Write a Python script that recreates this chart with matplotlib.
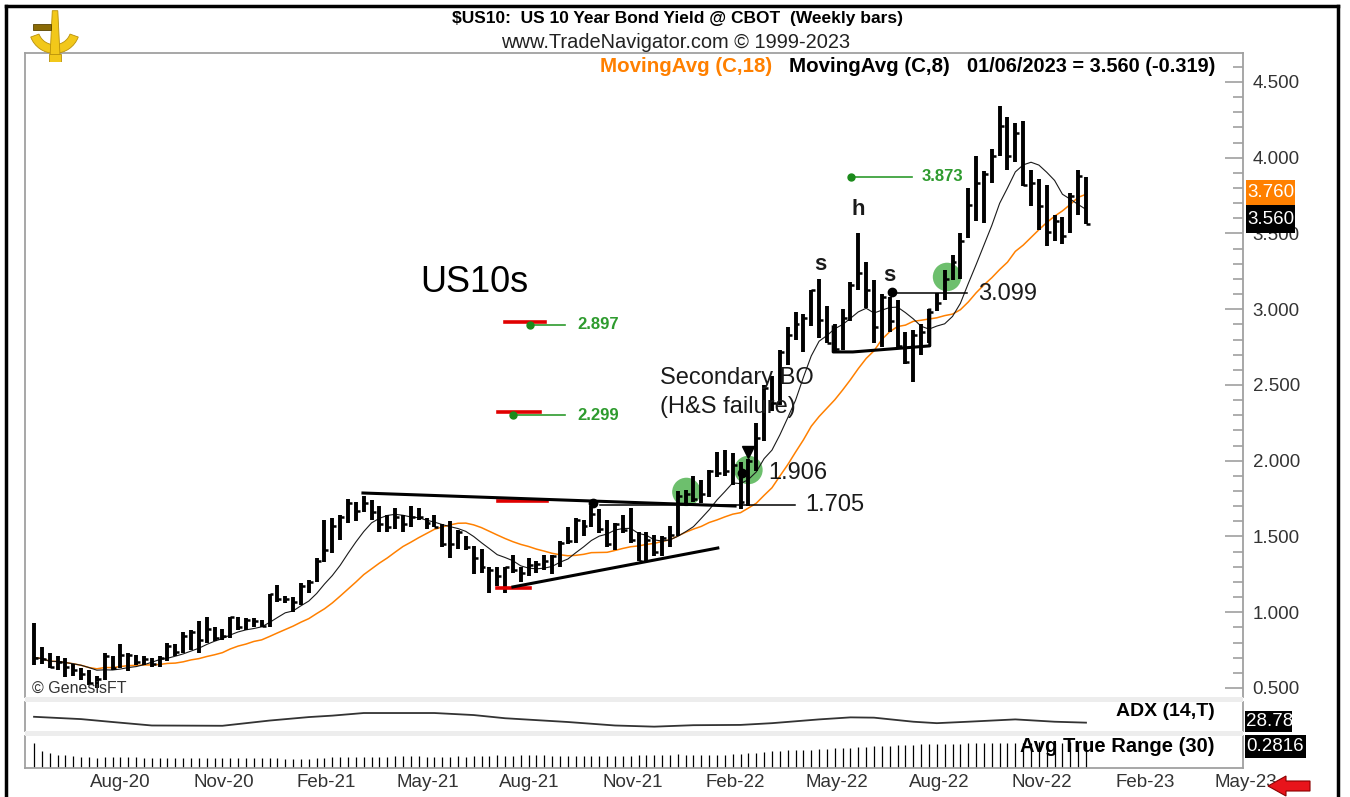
import numpy as np
import pandas as pd
import matplotlib
matplotlib.use("Agg")
import matplotlib.pyplot as plt
from matplotlib.patches import Rectangle, Wedge, Polygon
from matplotlib.lines import Line2D
from matplotlib.ticker import FormatStrFormatter

plt.rcParams['font.family'] = ['Liberation Sans', 'DejaVu Sans']

# US 10 year yield, weekly bars (Fridays), 12 Jun 2020 .. 06 Jan 2023
first_bar = '2020-06-12'
last_bar = '2023-01-06'

high_2020 = [0.93, 0.77, 0.73, 0.71, 0.70, 0.66, 0.63, 0.62, 0.58, 0.73,
             0.71, 0.79, 0.73, 0.72, 0.71, 0.70, 0.71, 0.80, 0.79, 0.87,
             0.88, 0.94, 0.97, 0.90, 0.89, 0.97, 0.97, 0.96, 0.96]
low_2020 = [0.65, 0.66, 0.63, 0.62, 0.57, 0.58, 0.55, 0.52, 0.50, 0.55,
            0.62, 0.63, 0.61, 0.65, 0.65, 0.64, 0.64, 0.68, 0.71, 0.73,
            0.75, 0.73, 0.80, 0.81, 0.82, 0.83, 0.88, 0.88, 0.90]
close_2020 = [0.70, 0.69, 0.64, 0.67, 0.64, 0.62, 0.59, 0.53, 0.56, 0.71,
              0.63, 0.72, 0.72, 0.67, 0.69, 0.66, 0.70, 0.78, 0.74, 0.84,
              0.87, 0.82, 0.89, 0.83, 0.84, 0.97, 0.90, 0.95, 0.94]

high_2021 = [0.95, 1.12, 1.18, 1.11, 1.10, 1.19, 1.21, 1.36, 1.61, 1.62,
             1.64, 1.75, 1.73, 1.77, 1.74, 1.70, 1.64, 1.69, 1.64, 1.70,
             1.69, 1.62, 1.64, 1.58, 1.60, 1.54, 1.50, 1.44, 1.42, 1.30,
             1.30, 1.30, 1.38, 1.30, 1.36, 1.34, 1.38, 1.38, 1.47, 1.56,
             1.62, 1.61, 1.70, 1.68, 1.61, 1.59, 1.64, 1.69, 1.53, 1.53,
             1.51, 1.50, 1.57]
low_2021 = [0.90, 0.90, 1.07, 1.06, 1.00, 1.05, 1.13, 1.20, 1.33, 1.39,
            1.48, 1.59, 1.60, 1.66, 1.61, 1.53, 1.53, 1.55, 1.53, 1.56,
            1.61, 1.55, 1.56, 1.43, 1.36, 1.42, 1.41, 1.25, 1.26, 1.13,
            1.17, 1.13, 1.26, 1.20, 1.24, 1.26, 1.28, 1.25, 1.30, 1.45,
            1.46, 1.50, 1.56, 1.52, 1.43, 1.41, 1.52, 1.46, 1.34, 1.34,
            1.37, 1.37, 1.43]
close_2021 = [0.91, 1.12, 1.09, 1.09, 1.07, 1.17, 1.20, 1.34, 1.41, 1.57,
              1.63, 1.72, 1.67, 1.72, 1.66, 1.58, 1.56, 1.63, 1.58, 1.63,
              1.63, 1.59, 1.56, 1.45, 1.45, 1.53, 1.43, 1.36, 1.30, 1.28,
              1.24, 1.30, 1.28, 1.26, 1.31, 1.32, 1.34, 1.37, 1.46, 1.47,
              1.61, 1.57, 1.65, 1.55, 1.45, 1.58, 1.54, 1.48, 1.34, 1.48,
              1.40, 1.49, 1.51]

high_2022 = [1.80, 1.81, 1.90, 1.87, 1.94, 2.06, 2.07, 2.05, 1.99, 2.01,
             2.25, 2.50, 2.56, 2.73, 2.88, 2.98, 2.97, 3.13, 3.20, 3.02,
             2.90, 3.00, 3.18, 3.50, 3.31, 3.19, 3.10, 3.08, 3.06, 2.85,
             2.86, 2.90, 3.00, 3.11, 3.26, 3.36, 3.50, 3.80, 4.01, 3.91,
             4.06, 4.34, 4.27, 4.23, 4.24, 3.92, 3.86, 3.82, 3.62, 3.61,
             3.77, 3.92]
low_2022 = [1.50, 1.70, 1.73, 1.72, 1.76, 1.89, 1.90, 1.84, 1.68, 1.70,
            1.93, 2.13, 2.33, 2.37, 2.63, 2.80, 2.72, 2.89, 2.81, 2.78,
            2.71, 2.73, 2.92, 3.13, 3.01, 2.78, 2.75, 2.85, 2.75, 2.64,
            2.52, 2.70, 2.78, 2.99, 3.06, 3.19, 3.20, 3.47, 3.58, 3.57,
            3.83, 4.01, 3.92, 3.97, 3.81, 3.68, 3.52, 3.42, 3.45, 3.43,
            3.50, 3.62]
close_2022 = [1.77, 1.78, 1.75, 1.78, 1.93, 1.92, 1.93, 1.97, 1.73, 2.00,
              2.15, 2.48, 2.38, 2.72, 2.83, 2.90, 2.94, 3.13, 2.93, 2.78,
              2.74, 2.94, 3.16, 3.24, 3.13, 2.88, 3.08, 2.92, 2.76, 2.65,
              2.83, 2.85, 2.98, 3.04, 3.20, 3.31, 3.45, 3.69, 3.83, 3.89,
              4.01, 4.21, 4.01, 4.16, 3.82, 3.83, 3.68, 3.51, 3.58, 3.48,
              3.75, 3.88]

high_2023 = [3.87]
low_2023 = [3.56]
close_2023 = [3.56]

# ADX(14) readings taken off the lower panel
adx_dates = ['2020-06-12', '2020-07-24', '2020-08-21', '2020-09-25', '2020-11-27',
             '2020-12-18', '2021-01-08', '2021-02-12', '2021-03-05', '2021-04-02',
             '2021-06-04', '2021-07-09', '2021-08-06', '2021-10-01', '2021-11-12',
             '2021-12-17', '2022-01-21', '2022-03-04', '2022-04-01', '2022-05-13',
             '2022-06-10', '2022-07-01', '2022-08-05', '2022-08-26', '2022-09-23',
             '2022-11-04', '2022-12-09', '2023-01-06']
adx_values = [49, 41, 31, 19, 18, 27, 36, 48, 53, 62, 62, 55, 44, 31, 19,
              15, 20, 21, 27, 40, 47, 46, 32, 27, 32, 40, 32, 28.78]

last_ma18 = '3.760'
last_close = '3.560'
last_adx = '28.78'
last_atr = '0.2816'
month_labels = pd.date_range('2020-08-01', '2023-05-01', freq='3MS')

high = np.array(high_2020 + high_2021 + high_2022 + high_2023)
low = np.array(low_2020 + low_2021 + low_2022 + low_2023)
close = np.array(close_2020 + close_2021 + close_2022 + close_2023)
dates = pd.date_range(first_bar, last_bar, freq='W-FRI')
x = np.arange(len(close))
def week_pos(d): return (pd.DatetimeIndex(d) - dates[0]).days / 7

# indicators from the bars
ma18 = pd.Series(close).rolling(18, min_periods=1).mean()
ma8 = pd.Series(close).rolling(8, min_periods=1).mean()
prev = np.r_[close[0], close[:-1]]
tr = np.maximum(high - low, np.maximum(np.abs(high - prev), np.abs(low - prev)))
atr30 = pd.Series(tr).rolling(30, min_periods=1).mean()

# ---- layout helpers (pixel -> figure fraction)
W, H = 1350, 797
def fx(p): return p / W
def fy(p): return 1 - p / H
def axbox(x0, y0, x1, y1): return [fx(x0), fy(y1), fx(x1) - fx(x0), fy(y0) - fy(y1)]

grey = '#A0A0A0'
fig = plt.figure(figsize=(W / 100, H / 100), dpi=100)

ax = fig.add_axes(axbox(25, 53, 1243, 697))
ax_adx = fig.add_axes(axbox(25, 702, 1243, 731))
ax_atr = fig.add_axes(axbox(25, 736, 1243, 768))

for a in (ax, ax_adx, ax_atr):
    a.set_xlim(-1.15, 154.0)
    for s in a.spines.values():
        s.set_color(grey)
        s.set_linewidth(1.3)
ax.spines['bottom'].set_visible(False)
ax_adx.spines['top'].set_visible(False)
ax_adx.spines['bottom'].set_visible(False)
ax_atr.spines['top'].set_visible(False)

for y0, y1 in [(697, 702), (731, 736)]:
    fig.patches.append(Rectangle((fx(25), fy(y1)), fx(1243) - fx(25), fy(y0) - fy(y1),
                                 transform=fig.transFigure, facecolor='#EDEDED', edgecolor='none'))

# ---- price panel
ax.set_ylim(0.4406, 4.691)
ax.scatter([83.1, 91.0, 116.3], [1.794, 1.939, 3.213], s=420, color='#5DB85D',
           alpha=0.9, edgecolors='none', zorder=1)
ax.plot(x, ma18, color='#FF8000', lw=1.1, zorder=2)
ax.plot(x, ma8, color='#1a1a1a', lw=0.8, zorder=2)
ax.vlines(x, low, high, color='black', lw=2.8, zorder=3)
ax.hlines(close, x, x + 0.5, color='black', lw=1.8, zorder=3)

ax.yaxis.tick_right()
ax.set_yticks(np.arange(0.5, 4.51, 0.5))
ax.set_yticks(np.arange(0.5, 4.65, 0.1), minor=True)
ax.yaxis.set_major_formatter(FormatStrFormatter('%.3f'))
ax.tick_params(axis='y', which='major', direction='in', length=13, width=1.2,
               color=grey, labelsize=13.5, labelcolor='#333333', pad=7)
ax.tick_params(axis='y', which='minor', direction='in', length=7, width=1.2, color=grey)
ax.tick_params(axis='x', bottom=False, labelbottom=False)

green, dgreen, red = '#2E9B2E', '#1B8A1B', '#E00000'
# target levels
for xr, yr, xd, yv, lab in [((60.0, 65.1), 2.915, 63.2, 2.897, '2.897'),
                            ((59.1, 64.5), 2.32, 61.0, 2.299, '2.299')]:
    ax.plot(xr, [yr, yr], color=red, lw=2.6, zorder=4)
    ax.plot([xd, 67.6], [yv, yv], color=green, lw=1.2, zorder=4)
    ax.plot(xd, yv, 'o', color=dgreen, ms=5, zorder=5)
    ax.text(69.2, yv, lab, color=green, fontsize=12, fontweight='bold', va='center')
ax.plot([104.1, 111.8], [3.873, 3.873], color=green, lw=1.2, zorder=4)
ax.plot(104.1, 3.873, 'o', color=dgreen, ms=5, zorder=5)
ax.text(113.1, 3.873, '3.873', color=green, fontsize=12, fontweight='bold', va='center')

ax.plot([59.1, 65.4], [1.735, 1.735], color=red, lw=2.6, zorder=3.5)
ax.plot([59.0, 63.2], [1.158, 1.158], color=red, lw=2.6, zorder=3.5)

# pattern lines
ax.plot([41.9, 89.3], [1.787, 1.701], color='black', lw=2.2, zorder=4)
ax.plot([72.1, 96.9], [1.705, 1.705], color='black', lw=1.1, zorder=4)
ax.plot([61.0, 87.1], [1.167, 1.424], color='black', lw=2.2, zorder=4)
ax.plot(71.2, 1.721, 'o', color='black', ms=6, zorder=5)
ax.plot(91.0, 2.06, 'v', color='black', ms=8, zorder=5)
ax.plot(90.2, 1.919, 'o', color='black', ms=6, zorder=5)
ax.plot([101.8, 101.8, 104.3, 114.1, 114.1], [2.883, 2.718, 2.718, 2.758, 2.995],
        color='black', lw=2.2, zorder=4)
ax.plot(109.3, 3.114, 'o', color='black', ms=6, zorder=5)
ax.plot([109.3, 118.9], [3.105, 3.105], color='black', lw=1.1, zorder=4)

txt = '#1a1a1a'
ax.text(98.2, 1.705, '1.705', fontsize=17, va='center', color=txt)
ax.text(93.5, 1.919, '1.906', fontsize=17, va='center', color=txt)
ax.text(120.3, 3.099, '3.099', fontsize=17, va='center', color=txt)
ax.text(79.7, 2.546, 'Secondary BO', fontsize=17, va='center', color=txt)
ax.text(79.7, 2.355, '(H&S failure)', fontsize=17, va='center', color=txt)
ax.text(49.2, 3.173, 'US10s', fontsize=26, va='center', color='black')
for xi, yi, s in [(105.0, 3.655, 'h'), (100.1, 3.292, 's'), (109.0, 3.22, 's')]:
    ax.text(xi, yi, s, fontsize=16, fontweight='bold', ha='center', va='center', color=txt)

fig.text(fx(32), fy(688), '© GenesisFT', fontsize=11.5, va='center', color='#333333')

# ---- ADX panel
ax_adx.plot(week_pos(adx_dates), adx_values, color='#333333', lw=1.3)
ax_adx.set_ylim(0, 100)
ax_adx.set_xticks([])
ax_adx.set_yticks([])

# ---- ATR panel
ax_atr.vlines(x, 0, atr30, color='black', lw=0.9)
ax_atr.set_ylim(0, 0.36)
ax_atr.set_yticks([])
ax_atr.set_xticks(week_pos(month_labels))
ax_atr.set_xticklabels(month_labels.strftime('%b-%y'), ha='left', fontsize=13.5, color='#333333')
ax_atr.tick_params(axis='x', length=0, pad=4)

fig.text(fx(1215), fy(712), 'ADX (14,T)', ha='right', va='center', fontsize=14, fontweight='bold')
fig.text(fx(1215), fy(746), 'Avg True Range (30)', ha='right', va='center', fontsize=14.5,
         fontweight='bold')

def value_box(x0, y0, x1, y1, s, bg):
    fig.patches.append(Rectangle((fx(x0), fy(y1)), fx(x1) - fx(x0), fy(y0) - fy(y1),
                                 transform=fig.transFigure, facecolor=bg, edgecolor='none', zorder=5))
    fig.text(fx(x0 + 1), fy((y0 + y1) / 2), s, color='white', ha='left', va='center',
             fontsize=13.5, zorder=6)

value_box(1246, 180, 1295, 205, last_ma18, '#FF8000')
value_box(1246, 205, 1295, 233, last_close, 'black')
value_box(1245, 711, 1292, 732, last_adx, 'black')
value_box(1245, 735, 1306, 758, last_atr, 'black')

# ---- header
fig.text(fx(677), fy(18), '\\$US10:  US 10 Year Bond Yield @ CBOT  (Weekly bars)', ha='center',
         va='center', fontsize=12.5, fontweight='bold')
fig.text(fx(676), fy(43), 'www.TradeNavigator.com © 1999-2023', ha='center', va='center',
         fontsize=14.4, color='#222222')
fig.text(fx(772), fy(67), 'MovingAvg (C,18)', ha='right', va='center', fontsize=14.8,
         fontweight='bold', color='#FF8000')
fig.text(fx(950), fy(67), 'MovingAvg (C,8)', ha='right', va='center', fontsize=14.8,
         fontweight='bold')
fig.text(fx(1215), fy(67), '01/06/2023 = ' + last_close + ' (-0.319)', ha='right', va='center',
         fontsize=14.4, fontweight='bold')

# ---- logo (simple gold sextant)
lg = fig.add_axes(axbox(27, 8, 82, 62))
lg.set_xlim(0, 1)
lg.set_ylim(0, 1)
lg.axis('off')
gold, dgold = '#F2C81A', '#B8900A'
lg.add_patch(Wedge((0.5, 0.62), 0.46, 200, 340, width=0.16, facecolor=gold, edgecolor=dgold, lw=0.6))
lg.add_patch(Polygon([[0.46, 0.95], [0.56, 0.95], [0.6, 0.12], [0.42, 0.12]], facecolor=gold,
                     edgecolor=dgold, lw=0.6))
lg.add_patch(Rectangle((0.1, 0.6), 0.34, 0.11, facecolor='#8a6a05', edgecolor='#5a4400', lw=0.6))
lg.add_patch(Rectangle((0.4, 0.0), 0.22, 0.14, facecolor=gold, edgecolor=dgold, lw=0.6))

# ---- red arrow and frame
fig.patches.append(Polygon([[fx(1268), fy(786)], [fx(1286), fy(776)], [fx(1286), fy(781)],
                            [fx(1310), fy(781)], [fx(1310), fy(791)], [fx(1286), fy(791)],
                            [fx(1286), fy(796)]], closed=True, transform=fig.transFigure,
                           facecolor='#E8141B', edgecolor='#8B0000', lw=0.8, zorder=6))
for xs, ys in [([6, 6], [797, 6]), ([6, 1338], [6, 6]), ([1338, 1338], [6, 797])]:
    fig.add_artist(Line2D([fx(v) for v in xs], [fy(v) for v in ys], transform=fig.transFigure,
                          color='black', lw=2.5))

fig.savefig('out.png', dpi=100)
